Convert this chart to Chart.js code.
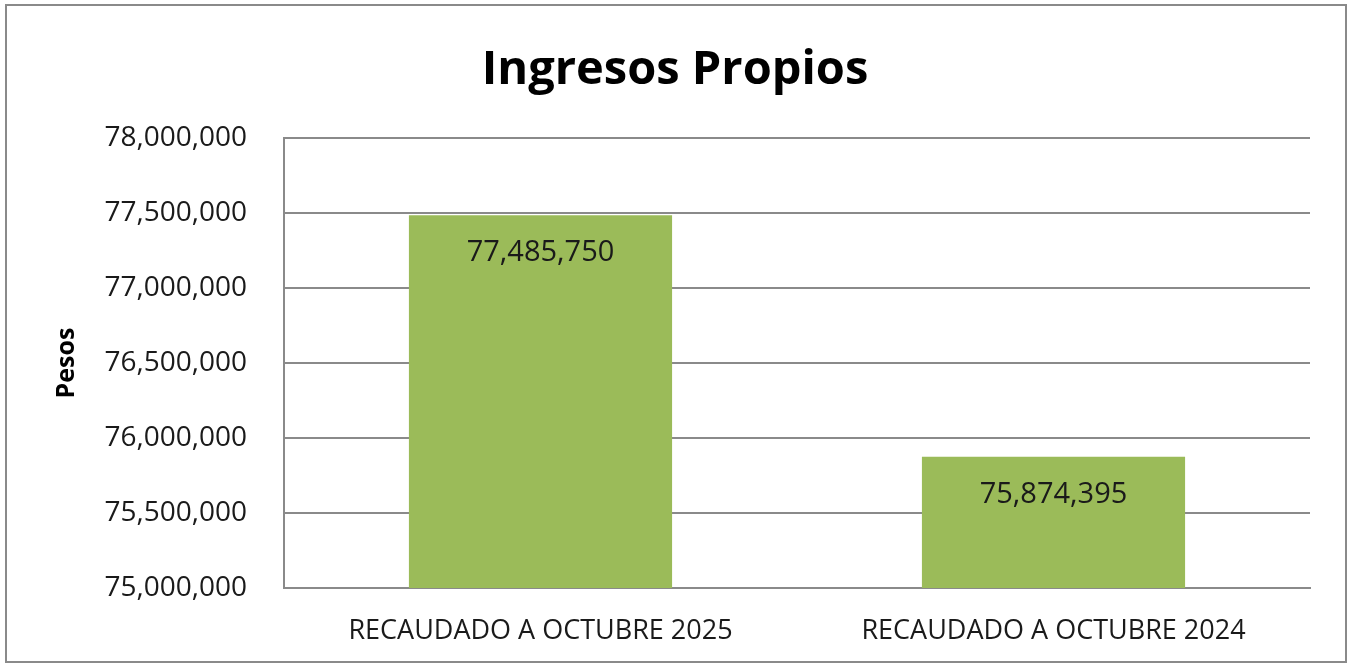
<!DOCTYPE html>
<html>
<head>
<meta charset="utf-8">
<script src="https://cdn.jsdelivr.net/npm/chart.js@4/dist/chart.umd.min.js"></script>
<style>
  html, body { margin: 0; padding: 0; background: #fff; }
  #wrap { position: relative; width: 1353px; height: 667px; }
</style>
</head>
<body>
<div id="wrap"><canvas id="chart"></canvas></div>
<script>
/* ── data ─────────────────────────────────────────────── */
var CATEGORIES = ['RECAUDADO A OCTUBRE 2025', 'RECAUDADO A OCTUBRE 2024'];
var VALUES     = [77485750, 75874395];
var Y_MIN  = 75000000;
var Y_MAX  = 78000000;
var Y_STEP = 500000;

var FONT = '"Open Sans", "Liberation Sans", sans-serif';

function fmt(v) { return Number(v).toLocaleString('en-US'); }

// outer frame like the office chart border
var framePlugin = {
    id: 'frame',
    beforeDraw: function(chart) {
        var c = chart.ctx;
        c.save();
        c.fillStyle = '#fff';
        c.fillRect(0, 0, chart.width, chart.height);
        c.strokeStyle = '#8a8a8a';
        c.lineWidth = 2;
        c.strokeRect(6, 5, chart.width - 13, chart.height - 10);
        c.restore();
    }
};

// value labels inside the top of each bar
var valueLabels = {
    id: 'valueLabels',
    afterDatasetsDraw: function(chart) {
        var c = chart.ctx;
        var meta = chart.getDatasetMeta(0);
        c.save();
        c.font = '29px ' + FONT;
        c.fillStyle = '#1a1a1a';
        c.textAlign = 'center';
        c.textBaseline = 'middle';
        meta.data.forEach(function(bar, i) {
            c.fillText(fmt(VALUES[i]), bar.x, bar.y + 38);
        });
        c.restore();
    }
};

new Chart(document.getElementById('chart'), {
    type: 'bar',
    data: {
        labels: CATEGORIES,
        datasets: [{
            label: 'Ingresos Propios',
            data: VALUES,
            backgroundColor: '#9bbb59',
            borderWidth: 0,
            barPercentage: 1,
            categoryPercentage: 0.513
        }]
    },
    options: {
        responsive: true,
        maintainAspectRatio: false,
        animation: false,
        layout: { padding: { left: 40, right: 43, top: 0, bottom: 0 } },
        plugins: {
            legend: { display: false },
            tooltip: { enabled: false },
            title: {
                display: true,
                text: 'Ingresos Propios',
                color: '#000',
                font: { family: FONT, size: 47, weight: 'bold', lineHeight: 1.2 },
                padding: { top: 42, bottom: 39.6 }
            }
        },
        scales: {
            x: {
                grid: { display: false, drawTicks: false },
                border: { display: true, color: '#8a8a8a', width: 2 },
                ticks: { color: '#1a1a1a', font: { family: FONT, size: 27 }, padding: 27, maxRotation: 0 },
                afterFit: function(s) { s.height = 79; }
            },
            y: {
                min: Y_MIN,
                max: Y_MAX,
                grid: { color: '#8a8a8a', lineWidth: 2, drawTicks: false },
                border: { display: true, color: '#8a8a8a', width: 2 },
                ticks: {
                    stepSize: Y_STEP,
                    color: '#1a1a1a',
                    font: { family: FONT, size: 28 },
                    padding: 37,
                    callback: function(v) { return fmt(v); }
                },
                title: {
                    display: true,
                    text: 'Pesos',
                    color: '#000',
                    font: { family: FONT, size: 25, weight: 'bold', lineHeight: 1.2 },
                    padding: { top: 12, bottom: 0 }
                },
                afterFit: function(s) { s.width = 244; }
            }
        }
    },
    plugins: [framePlugin, valueLabels]
});
</script>
</body>
</html>
